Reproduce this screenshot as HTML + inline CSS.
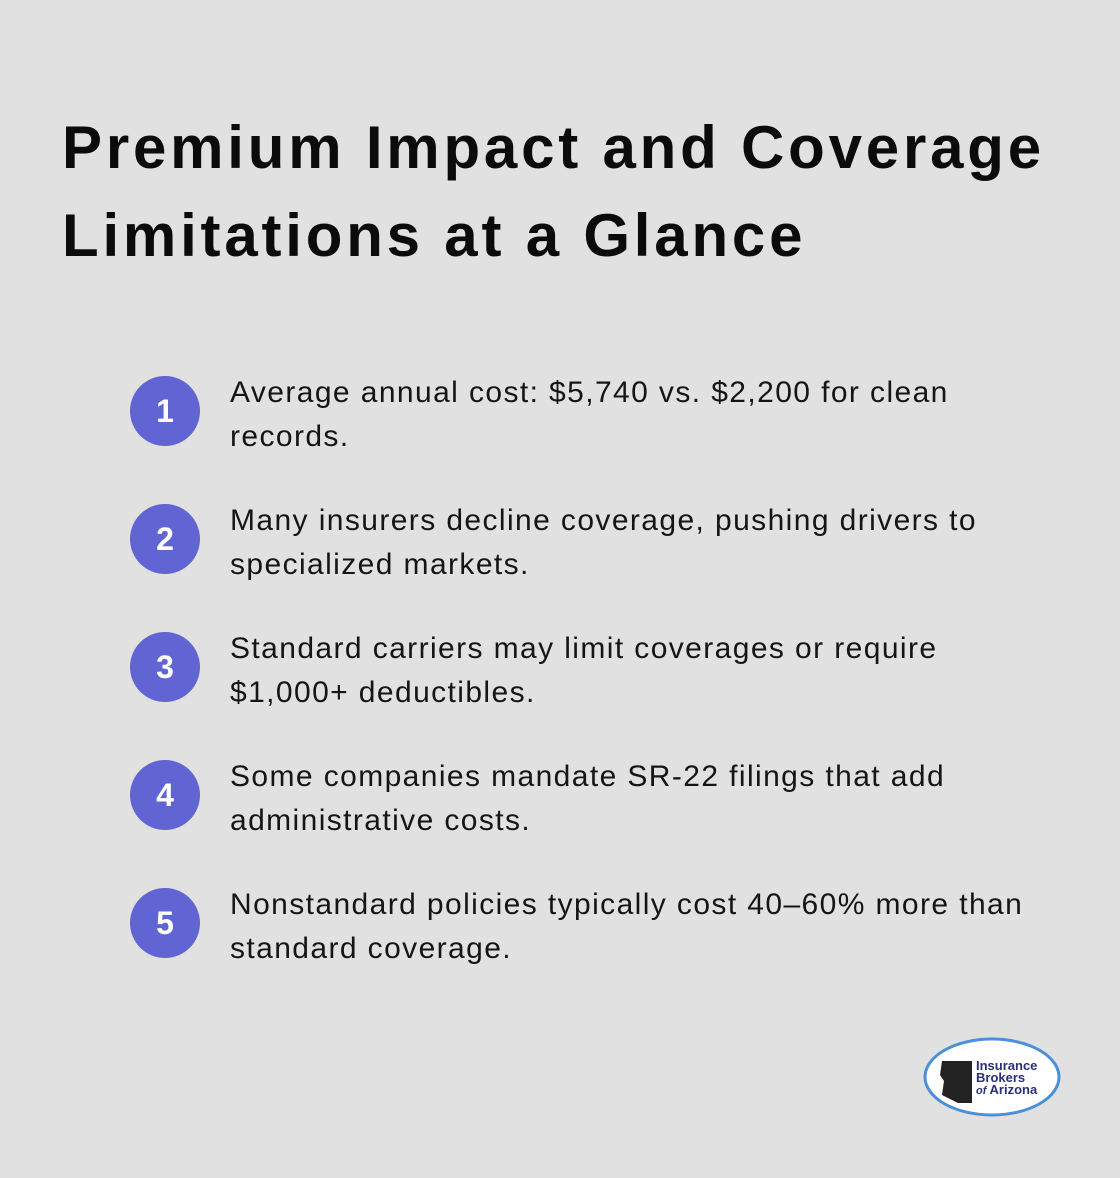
<!DOCTYPE html>
<html><head><meta charset="utf-8"><style>
body{margin:0;width:1120px;height:1178px;background:#e0e1e0;font-family:"Liberation Sans","DejaVu Sans",sans-serif;position:relative;overflow:hidden}
h1{position:absolute;left:62px;top:104px;margin:0;font-size:60px;line-height:88px;font-weight:bold;color:#0b0b0b;letter-spacing:3.8px;white-space:nowrap}
.item{position:absolute;left:130px;width:940px;height:90px}
.num{position:absolute;left:0;top:0;width:70px;height:70px;border-radius:50%;background:#6164d3;color:#fff;font-weight:bold;font-size:32px;line-height:70px;text-align:center}
.txt{position:absolute;left:100px;top:-5px;font-size:30px;line-height:44px;color:#151515;width:900px;letter-spacing:1.4px;white-space:nowrap}
</style></head><body>
<h1>Premium Impact and Coverage<br>Limitations at a Glance</h1>
<div class="item" style="top:376px"><div class="num">1</div><div class="txt">Average annual cost: $5,740 vs. $2,200 for clean<br>records.</div></div>
<div class="item" style="top:504px"><div class="num">2</div><div class="txt">Many insurers decline coverage, pushing drivers to<br>specialized markets.</div></div>
<div class="item" style="top:632px"><div class="num">3</div><div class="txt">Standard carriers may limit coverages or require<br>$1,000+ deductibles.</div></div>
<div class="item" style="top:760px"><div class="num">4</div><div class="txt">Some companies mandate SR-22 filings that add<br>administrative costs.</div></div>
<div class="item" style="top:888px"><div class="num">5</div><div class="txt">Nonstandard policies typically cost 40–60% more than<br>standard coverage.</div></div>
<svg style="position:absolute;left:920px;top:1035px" width="145" height="88" viewBox="0 0 145 88">
<ellipse cx="72" cy="42" rx="67" ry="38" fill="#fff" stroke="#4a90d9" stroke-width="3"/>
<path d="M22 26 L52 26 L52 68 L38 68 L22 60 L24 46 L20 40 Z" fill="#222"/>
<text x="56" y="35" font-size="13" font-weight="bold" fill="#2a2f7a" font-family="Liberation Sans Narrow, Liberation Sans, sans-serif">Insurance</text>
<text x="56" y="47" font-size="13" font-weight="bold" fill="#2a2f7a" font-family="Liberation Sans Narrow, Liberation Sans, sans-serif">Brokers</text>
<text x="56" y="59" font-size="13" font-weight="bold" fill="#2a2f7a" font-family="Liberation Sans Narrow, Liberation Sans, sans-serif"><tspan font-style="italic" font-size="11">of</tspan> Arizona</text>
</svg>
</body></html>
